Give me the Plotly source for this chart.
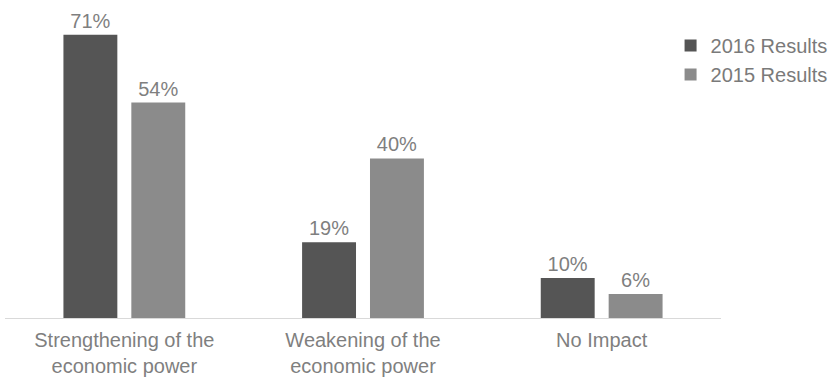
import plotly.graph_objects as go

categories = ["Strengthening of the<br>economic power", "Weakening of the<br>economic power", "No Impact"]
results_2016 = [71, 19, 10]
results_2015 = [54, 40, 6]

W, H = 832, 377
ml, mr, mt, mb = 4.5, 110.5, 10, 59
plot_h = H - mt - mb
plot_w = W - ml - mr
px_per_unit = 3.99
ymax = plot_h / px_per_unit

FAM = "Liberation Sans, Arial, sans-serif"
txt = dict(family=FAM, size=20, color="#7f7f7f")

fig = go.Figure()
fig.add_trace(go.Bar(name="2016 Results", x=categories, y=results_2016,
                     marker=dict(color="#555555", line=dict(width=0)),
                     texttemplate="%{y}%", textposition="outside",
                     textfont=txt, cliponaxis=False, legendgroup="a",
                     constraintext="none"))
fig.add_trace(go.Bar(name="2015 Results", x=categories, y=results_2015,
                     marker=dict(color="#8b8b8b", line=dict(width=0)),
                     texttemplate="%{y}%", textposition="outside",
                     textfont=txt, cliponaxis=False, legendgroup="b",
                     constraintext="none"))

fig.update_layout(
    width=W, height=H,
    margin=dict(l=ml, r=mr, t=mt, b=mb, pad=0, autoexpand=False),
    paper_bgcolor="white", plot_bgcolor="white",
    barmode="group", bargap=0.431, bargroupgap=0.206,
    font=txt,
    showlegend=True,
    legend=dict(x=(671 - ml) / plot_w, xanchor="left", y=(H - mb - 26) / plot_h, yanchor="top",
                font=dict(family=FAM, size=20, color="#7a7a7a"),
                tracegroupgap=11, traceorder="normal", bgcolor="rgba(0,0,0,0)"),
    xaxis=dict(showgrid=False, showline=True, linecolor="#d9d9d9", linewidth=1,
               ticks="", tickfont=txt, zeroline=False, ticklabelstandoff=4),
    yaxis=dict(range=[0, ymax], visible=False, showgrid=False, zeroline=False),
)

fig.write_html("out.html")
